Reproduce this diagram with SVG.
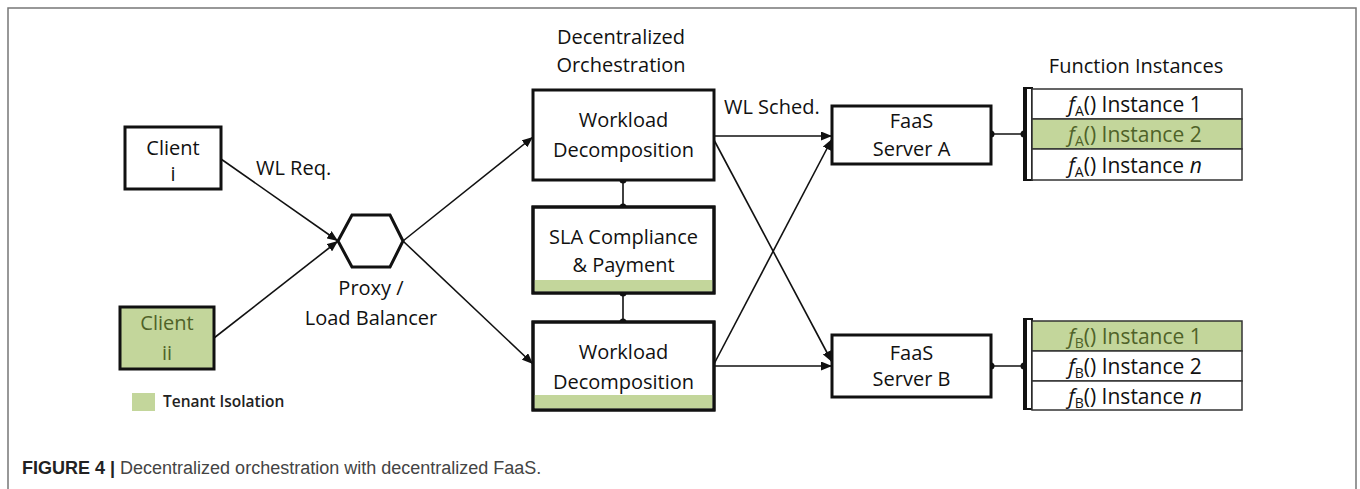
<svg xmlns="http://www.w3.org/2000/svg" width="1360" height="489" viewBox="0 0 1360 489">
<style>
.t{font-family:"Open Sans","Liberation Sans",sans-serif;font-size:20px;fill:#111;text-anchor:middle}
.i{font-size:21px}
.g{fill:#4f6228}
.box{fill:#fff;stroke:#111;stroke-width:3}
.gbox{fill:#c3d69b;stroke:#111;stroke-width:3}
.frame{fill:none;stroke:#111;stroke-width:3}
.bar{fill:#c3d69b}
.row{fill:#fff;stroke:#333;stroke-width:1.5}
.grow{fill:#c3d69b;stroke:#333;stroke-width:1.5}
.c{fill:none;stroke:#111;stroke-width:1.6}
.sub{font-size:14px}
</style>
<defs>
<marker id="arr" markerUnits="userSpaceOnUse" markerWidth="12" markerHeight="9" refX="11" refY="4.5" orient="auto">
<path d="M0,0 L11,4.5 L0,9 z" fill="#111"/>
</marker>
<marker id="dot" markerUnits="userSpaceOnUse" markerWidth="8" markerHeight="8" refX="4" refY="4">
<circle cx="4" cy="4" r="3.5" fill="#111"/>
</marker>
</defs>
<rect width="1360" height="489" fill="#fff"/>
<path d="M8,489 V8 H1356 V489" fill="none" stroke="#777" stroke-width="1.5"/>

<g id="connectors">
<line class="c" x1="221" y1="159" x2="338" y2="241" marker-end="url(#arr)"/>
<line class="c" x1="214" y1="338" x2="338" y2="241" marker-end="url(#arr)"/>
<line class="c" x1="403" y1="241" x2="533" y2="137" marker-end="url(#arr)"/>
<line class="c" x1="403" y1="241" x2="533" y2="364" marker-end="url(#arr)"/>
<line class="c" x1="623" y1="180" x2="623" y2="207" marker-start="url(#dot)" marker-end="url(#dot)"/>
<line class="c" x1="623" y1="293" x2="623" y2="322" marker-start="url(#dot)" marker-end="url(#dot)"/>
<line class="c" x1="714" y1="136" x2="832" y2="136" marker-end="url(#arr)"/>
<line class="c" x1="714" y1="140" x2="832" y2="362" marker-end="url(#arr)"/>
<line class="c" x1="714" y1="364" x2="832" y2="139" marker-end="url(#arr)"/>
<line class="c" x1="714" y1="366" x2="832" y2="366" marker-end="url(#arr)"/>
<line class="c" x1="991" y1="134" x2="1024" y2="134" marker-start="url(#dot)" marker-end="url(#dot)"/>
<line class="c" x1="991" y1="366" x2="1024" y2="366" marker-start="url(#dot)" marker-end="url(#dot)"/>
</g>

<g id="client-i">
<rect class="box" x="125" y="127" width="96" height="62"/>
<text class="t" x="173" y="155">Client</text>
<text class="t" x="173" y="181">i</text>
</g>

<g id="client-ii">
<rect class="gbox" x="120" y="307" width="94" height="62"/>
<text class="t g" x="167" y="330">Client</text>
<text class="t g" x="167" y="360">ii</text>
</g>

<g id="legend">
<rect class="bar" x="132" y="393" width="23" height="18"/>
<text class="t" x="163" y="407" style="text-anchor:start;font-size:15.5px;font-weight:600;fill:#222">Tenant Isolation</text>
</g>

<g id="label-wlreq">
<text class="t" x="256" y="175" style="text-anchor:start">WL Req.</text>
</g>

<g id="proxy">
<polygon points="338,241 352,215 390,215 403,241 390,267 352,267" fill="#fff" stroke="#111" stroke-width="3"/>
<text class="t" x="371" y="295">Proxy /</text>
<text class="t" x="371" y="325">Load Balancer</text>
</g>

<g id="orch-title">
<text class="t" x="621" y="44">Decentralized</text>
<text class="t" x="621" y="72">Orchestration</text>
</g>

<g id="wd-top">
<rect class="box" x="533" y="90" width="181" height="90"/>
<text class="t" x="623.5" y="127">Workload</text>
<text class="t" x="623.5" y="157">Decomposition</text>
</g>

<g id="sla">
<rect class="box" x="533" y="207" width="181" height="86"/>
<rect class="bar" x="534.5" y="280" width="178" height="11.5"/>
<rect class="frame" x="533" y="207" width="181" height="86"/>
<text class="t" x="623.5" y="244">SLA Compliance</text>
<text class="t" x="623.5" y="272">&amp; Payment</text>
</g>

<g id="wd-bottom">
<rect class="box" x="533" y="322" width="181" height="88"/>
<rect class="bar" x="534.5" y="395" width="178" height="13.5"/>
<rect class="frame" x="533" y="322" width="181" height="88"/>
<text class="t" x="623.5" y="359">Workload</text>
<text class="t" x="623.5" y="389">Decomposition</text>
</g>

<g id="label-wlsched">
<text class="t" x="724" y="114" style="text-anchor:start">WL Sched.</text>
</g>

<g id="faas-a">
<rect class="box" x="832" y="106" width="159" height="58"/>
<text class="t" x="911.5" y="128">FaaS</text>
<text class="t" x="911.5" y="156">Server A</text>
</g>

<g id="faas-b">
<rect class="box" x="832" y="335" width="159" height="62"/>
<text class="t" x="911.5" y="360">FaaS</text>
<text class="t" x="911.5" y="386">Server B</text>
</g>

<g id="fi-title">
<text class="t" x="1136" y="73">Function Instances</text>
</g>

<g id="instances-a">
<rect x="1024" y="88" width="8" height="92" fill="#fff" stroke="#111" stroke-width="2"/>
<line x1="1025" y1="87" x2="1025" y2="181" stroke="#111" stroke-width="4"/>
<rect class="row" x="1032" y="89" width="210" height="30"/>
<rect class="grow" x="1032" y="119" width="210" height="30"/>
<rect class="row" x="1032" y="149" width="210" height="31"/>
<text class="t i" x="1135" y="112"><tspan font-style="italic">f</tspan><tspan class="sub" dy="4">A</tspan><tspan dy="-4">() Instance 1</tspan></text>
<text class="t i g" x="1135" y="142"><tspan font-style="italic">f</tspan><tspan class="sub" dy="4">A</tspan><tspan dy="-4">() Instance  2</tspan></text>
<text class="t i" x="1135" y="173"><tspan font-style="italic">f</tspan><tspan class="sub" dy="4">A</tspan><tspan dy="-4">() Instance </tspan><tspan font-style="italic">n</tspan></text>
</g>

<g id="instances-b">
<rect x="1024" y="319" width="8" height="90" fill="#fff" stroke="#111" stroke-width="2"/>
<line x1="1025" y1="318" x2="1025" y2="410" stroke="#111" stroke-width="4"/>
<rect class="grow" x="1032" y="321" width="210" height="30"/>
<rect class="row" x="1032" y="351" width="210" height="30"/>
<rect class="row" x="1032" y="381" width="210" height="29"/>
<text class="t i g" x="1135" y="344"><tspan font-style="italic">f</tspan><tspan class="sub" dy="4">B</tspan><tspan dy="-4">() Instance 1</tspan></text>
<text class="t i" x="1135" y="374"><tspan font-style="italic">f</tspan><tspan class="sub" dy="4">B</tspan><tspan dy="-4">() Instance 2</tspan></text>
<text class="t i" x="1135" y="404"><tspan font-style="italic">f</tspan><tspan class="sub" dy="4">B</tspan><tspan dy="-4">() Instance </tspan><tspan font-style="italic">n</tspan></text>
</g>

<g id="caption">
<text x="22" y="474" style="font-family:'Liberation Sans',Arial,sans-serif;font-size:18px"><tspan font-weight="bold" fill="#222">FIGURE 4 |</tspan><tspan fill="#444"> Decentralized orchestration with decentralized FaaS.</tspan></text>
</g>
</svg>
